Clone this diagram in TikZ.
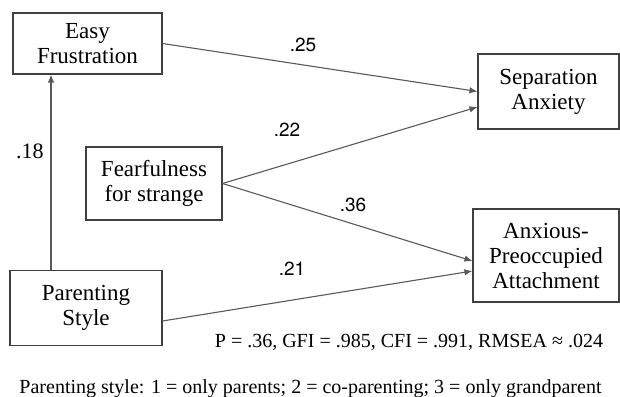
\documentclass[tikz,border=0pt]{standalone}
\usepackage{fontspec}
\setmainfont{Liberation Serif}
\newfontfamily\heros{TeX Gyre Heros}
\usetikzlibrary{arrows.meta}
\tikzset{
  pathbox/.style={draw=black!75, line width=1.1pt, align=center, inner sep=0pt,
    font=\fontsize{23}{25}\selectfont},
  patharr/.style={draw=black!65, line width=1.1pt, -{Latex[length=8pt,width=6.5pt]}},
  coefsans/.style={font=\heros\fontsize{19}{22}\selectfont, inner sep=0pt},
  coefserif/.style={font=\fontsize{22}{24}\selectfont, inner sep=0pt},
  notetext/.style={font=\fontsize{20}{24}\selectfont, inner sep=0pt, anchor=base}
}
\begin{document}
\begin{tikzpicture}[x=1pt,y=-1pt]
\useasboundingbox (0,0) rectangle (620,396);
\node[pathbox, minimum width=149pt, minimum height=61pt] (EF) at (87.5,43.5) {Easy\\Frustration};
\node[pathbox, minimum width=136pt, minimum height=73pt] (FS) at (154,183.5) {Fearfulness\\for strange};
\node[pathbox, minimum width=152pt, minimum height=75pt] (PS) at (86,308) {Parenting\\Style};
\node[pathbox, minimum width=141pt, minimum height=75pt] (SA) at (548.5,91.5) {Separation\\Anxiety};
\node[pathbox, minimum width=146pt, minimum height=93pt] (AP) at (546,255.5) {Anxious-\\Preoccupied\\Attachment};
\draw[patharr] (EF.east) -- (SA.west);
\draw[patharr] (FS.east) -- ([yshift=-15.5pt]SA.west);
\draw[patharr] (FS.east) -- ([yshift=-5.5pt]AP.west);
\draw[patharr] ([yshift=-13pt]PS.east) -- ([yshift=-15.5pt]AP.west);
\draw[patharr] ([xshift=-35pt]PS.north) -- ([xshift=-35pt]PS.north |- EF.south);
\node[coefsans] (l25) at (303,45) {.25};
\node[coefsans] (l22) at (287,130) {.22};
\node[coefsans] (l36) at (353,205) {.36};
\node[coefsans] (l21) at (292,269) {.21};
\node[coefserif] (l18) at (30,151) {.18};
\node[notetext] (fit) at (409,347) {P = .36, GFI = .985, CFI = .991, RMSEA ≈ .024};
\node[notetext] (key) at (310.5,393) {Parenting style: 1 = only parents; 2 = co-parenting; 3 = only grandparent};
\end{tikzpicture}
\end{document}
